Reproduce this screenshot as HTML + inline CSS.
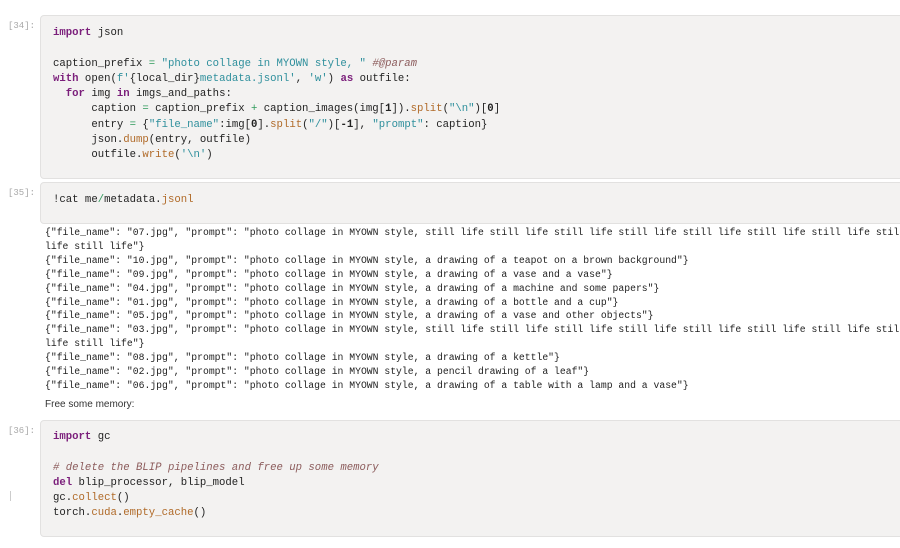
<!DOCTYPE html>
<html><head><meta charset="utf-8"><style>
body{margin:0;width:900px;height:548px;background:#fff;position:relative;overflow:hidden}
.cell{position:absolute;left:40px;width:880px;background:#f3f2f1;border:1px solid #e2e1e0;border-radius:4px}
.p{position:absolute;left:8px;font:9px "Liberation Mono",monospace;color:#a8a8a8}
.c{position:absolute;left:53px;font:10.65px/15.3px "Liberation Mono",monospace;color:#222;white-space:pre}
.o{position:absolute;left:45px;font:9.75px/13.9px "Liberation Mono",monospace;color:#222;white-space:pre}
.k{color:#7b1f7b;font-weight:bold}.s{color:#2e8f9c}.f{color:#b06a28}.m{color:#8c5c5c;font-style:italic}.n{font-weight:bold}.g{color:#2e9a5a}
</style></head><body>
<div class="cell" style="top:15px;height:162px"></div>
<div class="p" style="top:21px">[34]:</div>
<div class="c" style="top:26px"><span class="k">import</span> json

caption_prefix <span class="g">=</span> <span class="s">"photo collage in MYOWN style, "</span> <span class="m">#@param</span>
<span class="k">with</span> open(<span class="s">f'</span>{local_dir}<span class="s">metadata.jsonl'</span>, <span class="s">'w'</span>) <span class="k">as</span> outfile:
  <span class="k">for</span> img <span class="k">in</span> imgs_and_paths:
      caption <span class="g">=</span> caption_prefix <span class="g">+</span> caption_images(img[<span class="n">1</span>]).<span class="f">split</span>(<span class="s">"\n"</span>)[<span class="n">0</span>]
      entry <span class="g">=</span> {<span class="s">"file_name"</span>:img[<span class="n">0</span>].<span class="f">split</span>(<span class="s">"/"</span>)[<span class="n">-1</span>], <span class="s">"prompt"</span>: caption}
      json.<span class="f">dump</span>(entry, outfile)
      outfile.<span class="f">write</span>(<span class="s">'\n'</span>)</div>
<div class="cell" style="top:182px;height:40px"></div>
<div class="p" style="top:188px">[35]:</div>
<div class="c" style="top:193px">!cat me<span class="g">/</span>metadata.<span class="f">jsonl</span></div>
<div class="o" style="top:226px">{"file_name": "07.jpg", "prompt": "photo collage in MYOWN style, still life still life still life still life still life still life still life still life
life still life"}
{"file_name": "10.jpg", "prompt": "photo collage in MYOWN style, a drawing of a teapot on a brown background"}
{"file_name": "09.jpg", "prompt": "photo collage in MYOWN style, a drawing of a vase and a vase"}
{"file_name": "04.jpg", "prompt": "photo collage in MYOWN style, a drawing of a machine and some papers"}
{"file_name": "01.jpg", "prompt": "photo collage in MYOWN style, a drawing of a bottle and a cup"}
{"file_name": "05.jpg", "prompt": "photo collage in MYOWN style, a drawing of a vase and other objects"}
{"file_name": "03.jpg", "prompt": "photo collage in MYOWN style, still life still life still life still life still life still life still life still life
life still life"}
{"file_name": "08.jpg", "prompt": "photo collage in MYOWN style, a drawing of a kettle"}
{"file_name": "02.jpg", "prompt": "photo collage in MYOWN style, a pencil drawing of a leaf"}
{"file_name": "06.jpg", "prompt": "photo collage in MYOWN style, a drawing of a table with a lamp and a vase"}</div>
<div style="position:absolute;left:45px;top:399px;font:10px 'Liberation Sans',sans-serif;color:#333">Free some memory:</div>
<div class="cell" style="top:420px;height:115px"></div>
<div class="p" style="top:426px">[36]:</div>
<div style="position:absolute;left:10px;top:491px;width:1px;height:10px;background:#ccc"></div>
<div class="c" style="top:430px"><span class="k">import</span> gc

<span class="m"># delete the BLIP pipelines and free up some memory</span>
<span class="k">del</span> blip_processor, blip_model
gc.<span class="f">collect</span>()
torch.<span class="f">cuda</span>.<span class="f">empty_cache</span>()</div>
</body></html>
